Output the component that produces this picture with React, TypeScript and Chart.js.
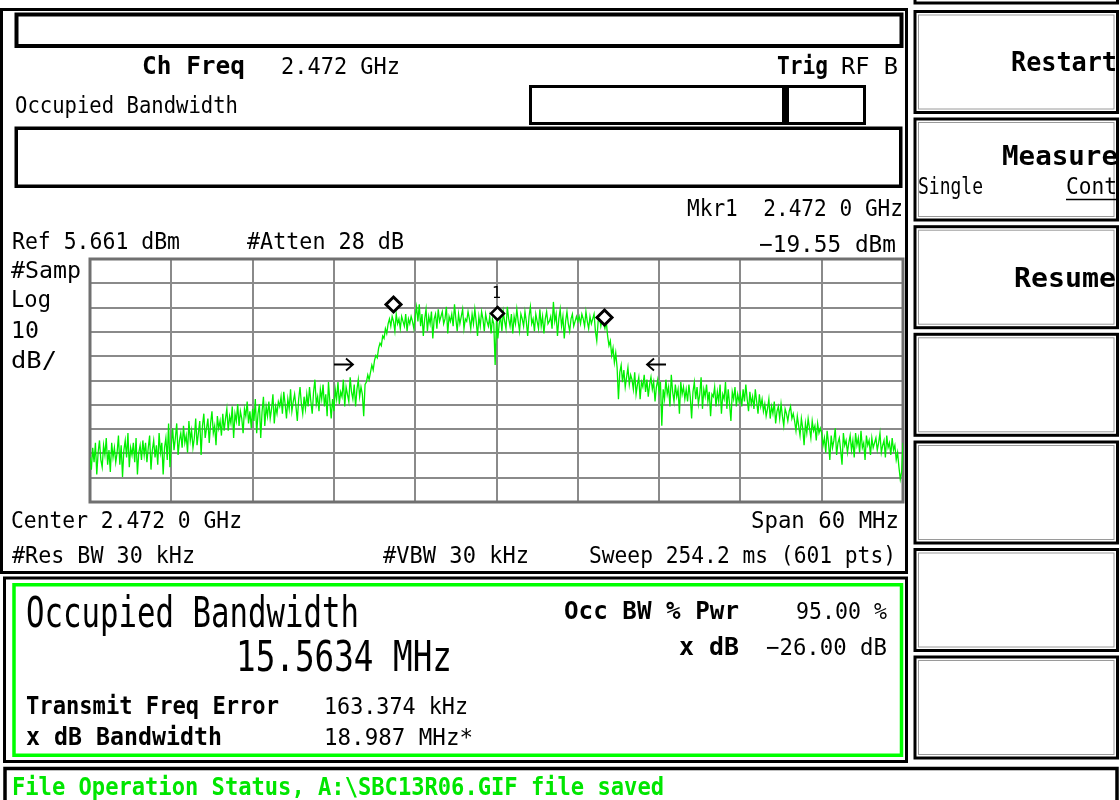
import React, { useEffect, useRef } from "react";
import { Chart, registerables } from "chart.js";

Chart.register(...registerables);

// ---- instrument settings ----
const refLevelDbm = 5.661;
const dbPerDiv = 10;
const verticalDivs = 10;
const centerMHz = 2472.0;
const spanMHz = 60;
const horizontalDivs = 10;

// ---- sweep trace: 601 points, dBm ----
const traceDbm: number[] = [
  -76, -81, -72, -78, -70, -83, -74, -69, -77, -80, -71, -75, -68, -79, -73, -82, -70, -76, -72, -78,
  -74, -67, -79, -71, -84, -73, -69, -76, -66, -80, -72, -75, -70, -78, -68, -83, -74, -71, -77, -69,
  -75, -70, -78, -72, -67, -81, -73, -69, -76, -71, -79, -66, -74, -70, -83, -72, -68, -77, -62, -80,
  -71, -64, -73, -68, -62, -75, -69, -66, -72, -63, -70, -67, -74, -61, -69, -65, -72, -68, -60, -71,
  -66, -61, -75, -63, -58, -68, -64, -60, -70, -62, -57, -66, -63, -71, -59, -64, -61, -67, -58, -65,
  -60, -56, -65, -59, -62, -55, -68, -58, -61, -54, -63, -57, -60, -66, -56, -59, -53, -62, -57, -64,
  -56, -61, -52, -66, -58, -54, -68, -57, -51, -63, -55, -59, -53, -60, -56, -50, -62, -55, -58, -53,
  -55, -51, -58, -49, -54, -60, -52, -56, -48, -57, -53, -50, -55, -61, -52, -47, -54, -58, -51, -56,
  -50, -55, -47, -53, -58, -49, -44, -54, -51, -57, -48, -52, -46, -55, -50, -59, -45, -53, -60, -52,
  -57, -48, -52, -45, -54, -49, -51, -44, -55, -47, -50, -53, -43, -49, -52, -46, -55, -48, -44, -51,
  -47, -50, -59, -46, -45, -42, -44, -41, -38, -40, -36, -34, -35, -31, -29, -30, -26, -27, -23, -25,
  -21, -19, -22, -18, -20, -24, -17, -21, -19, -23, -18, -20, -22, -17, -24, -19, -21, -18, -20, -23,
  -18, -14, -20, -13, -22, -17, -26, -19, -15, -24, -18, -21, -16, -27, -19, -17, -23, -15, -20, -18,
  -16, -21, -19, -14, -25, -18, -20, -17, -22, -13, -19, -24, -17, -21, -18, -15, -23, -19, -20, -16,
  -19, -23, -17, -21, -15, -20, -26, -18, -22, -16, -19, -24, -17, -20, -22, -18, -25, -19, -21, -38,
  -19.55, -27, -21, -18, -24, -16, -20, -23, -14, -19, -22, -17, -25, -18, -21, -15, -20, -24, -17, -19,
  -22, -16, -20, -26, -18, -14, -21, -19, -24, -17, -20, -23, -15, -22, -18, -25, -19, -16, -21, -20,
  -18, -23, -12, -20, -17, -26, -19, -15, -22, -18, -27, -20, -16, -21, -24, -19, -17, -22, -20, -18,
  -20, -18, -21, -17, -19, -22, -16, -20, -23, -18, -21, -19, -17, -24, -28, -20, -18, -22, -19, -21,
  -23, -20, -26, -30, -28, -34, -31, -37, -33, -39, -52, -41, -38, -45, -40, -47, -43, -39, -46, -42,
  -44, -48, -41, -50, -46, -43, -52, -45, -47, -42, -49, -44, -51, -46, -43, -48, -45, -53, -47, -44,
  -49, -45, -63, -48, -52, -44, -50, -47, -55, -42, -49, -53, -46, -51, -48, -58, -45, -50, -47, -52,
  -48, -53, -46, -51, -60, -49, -45, -52, -47, -54, -50, -43, -56, -48, -51, -46, -53, -49, -59, -50,
  -51, -47, -55, -49, -53, -46, -58, -50, -52, -45, -56, -48, -54, -61, -49, -52, -47, -55, -50, -53,
  -50, -55, -48, -53, -46, -52, -57, -49, -54, -51, -56, -48, -53, -58, -50, -55, -52, -57, -54, -59,
  -56, -52, -60, -55, -58, -53, -62, -57, -55, -60, -54, -59, -63, -56, -58, -61, -57, -55, -60, -58,
  -61, -65, -59, -63, -67, -60, -64, -71, -62, -66, -60, -64, -68, -61, -65, -63, -69, -62, -66, -64,
  -66, -71, -68, -74, -65, -70, -77, -67, -72, -69, -64, -75, -70, -68, -73, -79, -66, -71, -69, -74,
  -70, -67, -73, -69, -76, -66, -71, -68, -74, -65, -72, -70, -77, -67, -71, -69, -75, -68, -72, -70,
  -68, -73, -70, -66, -74, -71, -69, -76, -67, -72, -70, -75, -68, -73, -71, -77, -74, -80, -85, -82,
  -70,
];

// ---- markers ----
const obwEdgeMHz = [2464.38, 2479.95];
const obwEdgeDbm = [-16.4, -21.5];
const marker1MHz = 2472.0;
const marker1Dbm = -19.55;
const xdbArrowTipMHz = [2461.4, 2483.1];
const xdbArrowDbm = -37.5;

const MONO = '"DejaVu Sans Mono", "Liberation Mono", monospace';
const GREEN = "#00ff00";

type Lbl = [string, number, number, number, number, number, string?];
// text, x, baseline, textLength, font size, bold, colour
const labels: Lbl[] = [
  ["Ch Freq", 142, 74, 103, 24, 1],
  ["2.472 GHz", 281, 74, 119, 23, 0],
  ["Trig", 777, 74, 51, 24, 1],
  ["RF B", 841, 74, 57, 23, 0],
  ["Occupied Bandwidth", 15, 113, 223, 23, 0],
  ["Mkr1  2.472 0 GHz", 687, 216, 216, 23, 0],
  ["Ref 5.661 dBm", 12, 249, 168, 23, 0],
  ["#Atten 28 dB", 247, 249, 157, 23, 0],
  ["\u221219.55 dBm", 759, 252, 137, 23, 0],
  ["#Samp", 11, 278, 70, 23, 0],
  ["Log", 11, 307, 40, 23, 0],
  ["10", 11, 338, 28, 23, 0],
  ["dB/", 11, 368, 46, 23, 0],
  ["1", 492, 298, 9, 15, 0],
  ["Center 2.472 0 GHz", 11, 528, 231, 23, 0],
  ["Span 60 MHz", 751, 528, 148, 23, 0],
  ["#Res BW 30 kHz", 12, 563, 183, 23, 0],
  ["#VBW 30 kHz", 383, 563, 146, 23, 0],
  ["Sweep 254.2 ms (601 pts)", 589, 563, 307, 23, 0],
  ["Occupied Bandwidth", 26, 627, 333, 42, 0],
  ["15.5634 MHz", 236, 671, 216, 42, 0],
  ["Occ BW % Pwr", 564, 619, 175, 24, 1],
  ["95.00 %", 796, 619, 91, 23, 0],
  ["x dB", 679, 655, 60, 24, 1],
  ["\u221226.00 dB", 766, 655, 121, 23, 0],
  ["Transmit Freq Error", 26, 714, 253, 24, 1],
  ["163.374 kHz", 324, 714, 144, 23, 0],
  ["x dB Bandwidth", 26, 745, 196, 24, 1],
  ["18.987 MHz*", 324, 745, 149, 23, 0],
  ["File Operation Status, A:\\SBC13R06.GIF file saved", 12, 795, 652, 24, 1, "#00e600"],
  ["Restart", 1011, 71, 106, 27, 1],
  ["Measure", 1002, 165, 116, 27, 1],
  ["Single", 918, 194, 65, 23, 0],
  ["Cont", 1066, 194, 51, 23, 0],
  ["Resume", 1014, 287, 102, 27, 1],
];

const softkeyTops = [-98, 11.5, 119, 226.7, 334.3, 442, 549.5, 657];

const overlayPlugin = {
  id: "saOverlay",
  beforeDatasetsDraw(chart: any) {
    const { ctx, chartArea: a } = chart;
    ctx.save();
    ctx.strokeStyle = "#707070";
    ctx.lineWidth = 3;
    ctx.strokeRect(a.left, a.top, a.right - a.left, a.bottom - a.top);
    ctx.restore();
  },
  afterDatasetsDraw(chart: any) {
    const { ctx } = chart;
    const xs = chart.scales.x;
    const ys = chart.scales.y;
    ctx.save();
    const diamond = (mhz: number, dbm: number, h: number, lw: number) => {
      const px = Math.round(xs.getPixelForValue(mhz)) + 0.5;
      const py = ys.getPixelForValue(dbm);
      const cy = Math.round(py - h - 1) + 0.5;
      ctx.beginPath();
      ctx.moveTo(px, cy - h);
      ctx.lineTo(px + h, cy);
      ctx.lineTo(px, cy + h);
      ctx.lineTo(px - h, cy);
      ctx.closePath();
      ctx.fillStyle = "#fff";
      ctx.fill();
      ctx.lineWidth = lw;
      ctx.strokeStyle = "#000";
      ctx.lineJoin = "miter";
      ctx.stroke();
    };
    obwEdgeMHz.forEach((f, k) => diamond(f, obwEdgeDbm[k], 7.5, 3));
    diamond(marker1MHz, marker1Dbm, 6.5, 2.5);
    xdbArrowTipMHz.forEach((f, k) => {
      const px = Math.round(xs.getPixelForValue(f));
      const py = Math.round(ys.getPixelForValue(xdbArrowDbm)) + 0.5;
      const dir = k === 0 ? 1 : -1;
      ctx.beginPath();
      ctx.moveTo(px - dir * 19, py);
      ctx.lineTo(px, py);
      ctx.moveTo(px - dir * 7, py - 6);
      ctx.lineTo(px, py);
      ctx.lineTo(px - dir * 7, py + 6);
      ctx.lineWidth = 1.8;
      ctx.strokeStyle = "#000";
      ctx.stroke();
    });
    ctx.restore();
  },
};

function SpectrumChart() {
  const ref = useRef<HTMLCanvasElement | null>(null);
  useEffect(() => {
    if (!ref.current) return;
    const startMHz = centerMHz - spanMHz / 2;
    const stopMHz = centerMHz + spanMHz / 2;
    const bottomDbm = refLevelDbm - dbPerDiv * verticalDivs;
    const pts = traceDbm.map((v, i) => ({
      x: startMHz + (i * spanMHz) / (traceDbm.length - 1),
      y: v,
    }));
    const grid = { color: "#8a8a8a", lineWidth: 2, drawTicks: false };
    const chart = new Chart(ref.current, {
      type: "line",
      data: {
        datasets: [
          {
            data: pts,
            borderColor: "#00f000",
            borderWidth: 1.3,
            pointRadius: 0,
            tension: 0,
            fill: false,
          },
        ],
      },
      options: {
        responsive: false,
        animation: false,
        events: [],
        layout: { padding: 4 },
        plugins: { legend: { display: false }, tooltip: { enabled: false } },
        scales: {
          x: {
            type: "linear",
            min: startMHz,
            max: stopMHz,
            afterBuildTicks: (s: any) => {
              s.ticks = Array.from({ length: horizontalDivs + 1 }, (_, k) => ({
                value: startMHz + (k * spanMHz) / horizontalDivs,
              }));
            },
            ticks: { display: false },
            grid,
            border: { display: false },
          },
          y: {
            type: "linear",
            min: bottomDbm,
            max: refLevelDbm,
            afterBuildTicks: (s: any) => {
              s.ticks = Array.from({ length: verticalDivs + 1 }, (_, k) => ({
                value: bottomDbm + k * dbPerDiv,
              }));
            },
            ticks: { display: false },
            grid,
            border: { display: false },
          },
        },
      } as any,
      plugins: [overlayPlugin],
    });
    return () => chart.destroy();
  }, []);
  return (
    <canvas
      ref={ref}
      width={821}
      height={251}
      style={{ position: "absolute", left: 86, top: 255, width: 821, height: 251 }}
    />
  );
}

export default function App() {
  return (
    <div
      style={{
        position: "absolute",
        left: 0,
        top: 0,
        width: 1120,
        height: 800,
        background: "#fff",
        overflow: "hidden",
      }}
    >
      <SpectrumChart />
      <svg
        width={1120}
        height={800}
        style={{ position: "absolute", left: 0, top: 0, pointerEvents: "none" }}
        fill="none"
      >
        {/* upper measurement panel */}
        <rect x={1.5} y={9.5} width={905} height={563} stroke="#000" strokeWidth={3} />
        <rect x={16.5} y={14.5} width={885} height={31.5} stroke="#000" strokeWidth={4} />
        <rect x={530.5} y={86.5} width={334} height={37} stroke="#000" strokeWidth={3} />
        <rect x={782} y={86} width={7} height={38} fill="#000" />
        <rect x={16.25} y={128.25} width={884.5} height={58} stroke="#000" strokeWidth={3.5} />
        {/* results panel */}
        <rect x={4.5} y={578} width={902} height={183.5} stroke="#000" strokeWidth={3} />
        <rect x={14} y={584.75} width={887.5} height={170.5} stroke={GREEN} strokeWidth={3.5} />
        {/* status bar */}
        <rect x={5} y={768.5} width={1112} height={100} stroke="#000" strokeWidth={3.5} />
        {/* soft keys */}
        {softkeyTops.map((t, i) => (
          <g key={i}>
            <rect x={915} y={t} width={202.5} height={101} stroke="#000" strokeWidth={3} />
            <rect x={918.5} y={t + 3.5} width={195.5} height={94} stroke="#9a9a9a" strokeWidth={1} />
          </g>
        ))}
        <line x1={1066} x2={1116} y1={199.5} y2={199.5} stroke="#000" strokeWidth={1.5} />
        {labels.map(([t, x, y, w, s, b, c], i) => (
          <text
            key={i}
            x={x}
            y={y}
            fontFamily={MONO}
            fontSize={s}
            fontWeight={b ? "bold" : "normal"}
            fill={c || "#000"}
            textLength={w}
            lengthAdjust="spacingAndGlyphs"
            style={{ whiteSpace: "pre" }}
          >
            {t}
          </text>
        ))}
      </svg>
    </div>
  );
}
